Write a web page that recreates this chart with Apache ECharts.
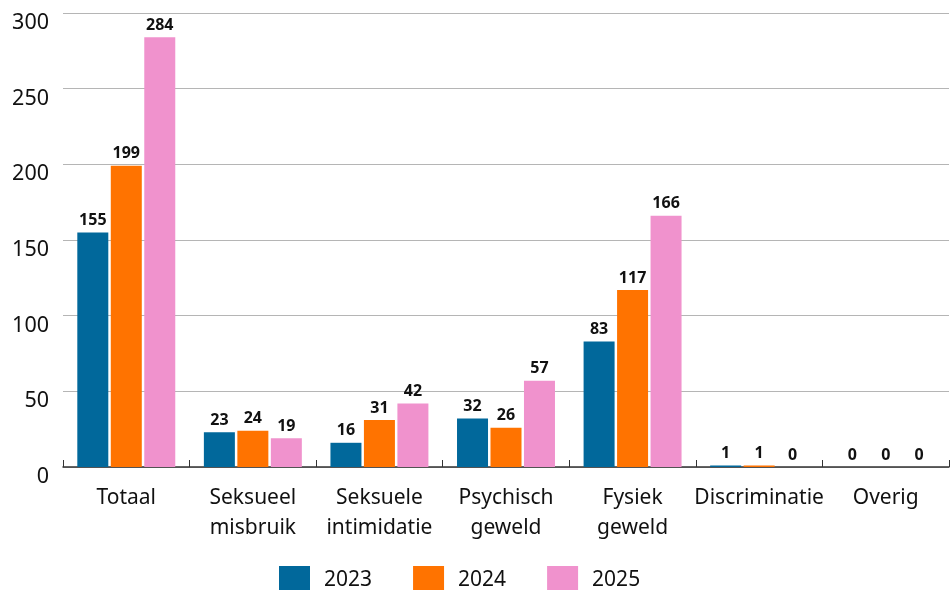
<!DOCTYPE html>
<html><head><meta charset="utf-8">
<script src="https://cdn.jsdelivr.net/npm/echarts@6/dist/echarts.min.js"></script>
<style>html,body{margin:0;padding:0;background:#fff}#c{width:950px;height:590px}</style>
</head><body><div id="c"></div>
<script>
const categories = ['Totaal', 'Seksueel\nmisbruik', 'Seksuele\nintimidatie', 'Psychisch\ngeweld', 'Fysiek\ngeweld', 'Discriminatie', 'Overig'];
const seriesNames = ['2023', '2024', '2025'];
const values2023 = [155, 23, 16, 32, 83, 1, 0];
const values2024 = [199, 24, 31, 26, 117, 1, 0];
const values2025 = [284, 19, 42, 57, 166, 0, 0];
const yTicks = [0, 50, 100, 150, 200, 250, 300];
const colors = ['#01689b', '#ff7300', '#f092cd'];
const font = '"Noto Sans", "Open Sans", sans-serif';

const chart = echarts.init(document.getElementById('c'));
const mk = (name, data, color) => ({
  name, type: 'bar', data, barWidth: 31, barGap: '8%',
  itemStyle: { color },
  label: { show: true, position: 'top', distance: 4, color: '#111', fontWeight: 'bold', fontSize: 16, fontFamily: font }
});
chart.setOption({
  animation: false,
  textStyle: { fontFamily: font },
  grid: { left: 63, right: 1, top: 13, bottom: 123, containLabel: false },
  legend: {
    top: 561, left: 274, itemWidth: 31, itemHeight: 29, itemGap: 41,
    icon: 'rect', data: seriesNames,
    textStyle: { fontSize: 21, color: '#111', fontFamily: font, padding: [0, 0, 0, 9] }
  },
  xAxis: {
    type: 'category', data: categories,
    axisLine: { lineStyle: { color: '#333', width: 1.5 } },
    axisTick: { show: true, inside: true, length: 7, lineStyle: { color: '#333' } },
    axisLabel: { fontSize: 21, color: '#111', lineHeight: 30, margin: 16, interval: 0, fontFamily: font }
  },
  yAxis: {
    type: 'value', min: yTicks[0], max: yTicks[yTicks.length - 1], interval: 50,
    axisLine: { show: false }, axisTick: { show: false },
    splitLine: { lineStyle: { color: '#b5b5b5', width: 1.2 } },
    axisLabel: { fontSize: 21.5, color: '#111', margin: 14, fontFamily: font, verticalAlign: 'top', lineHeight: 20 }
  },
  series: [
    mk(seriesNames[0], values2023, colors[0]),
    mk(seriesNames[1], values2024, colors[1]),
    mk(seriesNames[2], values2025, colors[2])
  ]
});
</script></body></html>
